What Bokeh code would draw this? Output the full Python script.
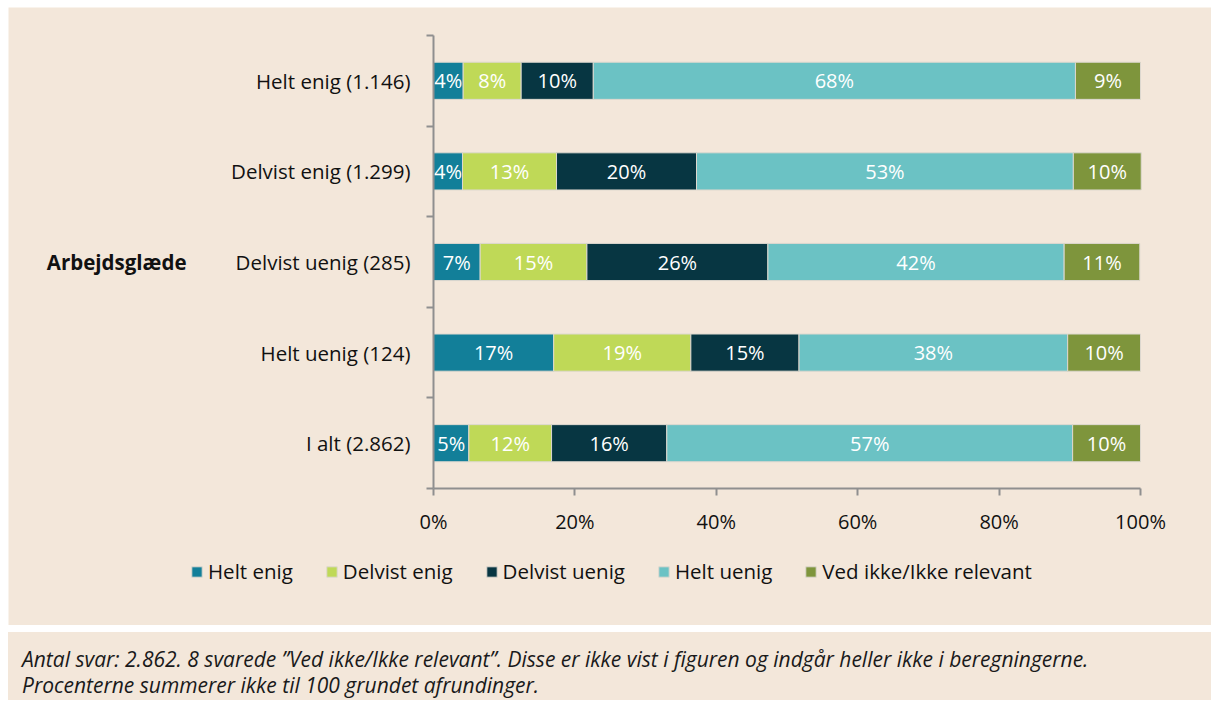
from bokeh.plotting import figure
from bokeh.models import (ColumnDataSource, FixedTicker, Legend, LegendItem,
                          Range1d, Div)
from bokeh.layouts import column
from bokeh.embed import file_html
from bokeh.resources import INLINE
from bokeh.core.properties import value

# ---------------- data ----------------
categories = ["Helt enig (1.146)", "Delvist enig (1.299)", "Delvist uenig (285)",
              "Helt uenig (124)", "I alt (2.862)"]
group_label = "Arbejdsglæde"
series = ["Helt enig", "Delvist enig", "Delvist uenig", "Helt uenig",
          "Ved ikke/Ikke relevant"]
helt_enig = [4.2, 4.1, 6.6, 17.0, 5.0]
delvist_enig = [8.2, 13.3, 15.1, 19.4, 11.7]
delvist_uenig = [10.2, 19.8, 25.6, 15.3, 16.3]
helt_uenig = [68.2, 53.3, 41.9, 38.0, 57.4]
ved_ikke = [9.2, 9.6, 10.7, 10.3, 9.6]
x_ticks = [0, 20, 40, 60, 80, 100]
x_tick_labels = ["0%", "20%", "40%", "60%", "80%", "100%"]
footnote_lines = [
    "Antal svar: 2.862. 8 svarede \u201dVed ikke/Ikke relevant\u201d. Disse er ikke vist i figuren og indgår heller ikke i beregningerne.",
    "Procenterne summerer ikke til 100 grundet afrundinger.",
]

# ---------------- styles / layout ----------------
colors = ["#127f99", "#bfd957", "#073642", "#6bc2c4", "#7e953c"]
BG = "#f3e7da"
FONT = "Open Sans"
AXIS_COLOR = "#8f8f8f"
TEXT_COLOR = "#111111"

W, H = 1203, 618
PLOT_LEFT, PLOT_RIGHT = 425, 1132      # pixel positions of 0% and 100%
PLOT_TOP, PLOT_BOTTOM = 28, 481        # pixel positions of top / bottom of category axis

n = len(categories)
xmax = 100
px_x = (PLOT_RIGHT - PLOT_LEFT) / xmax
px_y = (PLOT_BOTTOM - PLOT_TOP) / n
x_range = Range1d(-PLOT_LEFT / px_x, xmax + (W - PLOT_RIGHT) / px_x)
y_range = Range1d(-(H - PLOT_BOTTOM) / px_y, n + PLOT_TOP / px_y)

values_by_series = [helt_enig, delvist_enig, delvist_uenig, helt_uenig, ved_ikke]
ypos = [n - 0.5 - i for i in range(n)]

p = figure(width=W, height=H, x_range=x_range, y_range=y_range,
           output_backend="svg", toolbar_location=None, min_border=0)
p.background_fill_color = BG
p.border_fill_color = BG
p.outline_line_color = None
p.xgrid.grid_line_color = None
p.ygrid.grid_line_color = None

# x axis (fixed at y = 0, limited to 0..100)
xa = p.xaxis[0]
xa.fixed_location = 0
xa.bounds = (0, xmax)
xa.ticker = FixedTicker(ticks=x_ticks)
xa.major_label_overrides = {t: l for t, l in zip(x_ticks, x_tick_labels)}
xa.axis_line_color = AXIS_COLOR
xa.axis_line_width = 2
xa.major_tick_line_color = AXIS_COLOR
xa.major_tick_line_width = 2
xa.major_tick_in = 0
xa.major_tick_out = 7
xa.minor_tick_line_color = None
xa.major_label_text_font = FONT
xa.major_label_text_font_size = "20px"
xa.major_label_text_color = TEXT_COLOR
xa.major_label_standoff = 12

# y axis (fixed at x = 0): ticks at category boundaries, no labels
ya = p.yaxis[0]
ya.fixed_location = 0
ya.bounds = (0, n)
ya.ticker = FixedTicker(ticks=list(range(n + 1)))
ya.major_label_overrides = {i: "" for i in range(n + 1)}
ya.axis_line_color = AXIS_COLOR
ya.axis_line_width = 2
ya.major_tick_line_color = AXIS_COLOR
ya.major_tick_line_width = 2
ya.major_tick_in = 0
ya.major_tick_out = 7
ya.minor_tick_line_color = None

# stacked bars
left = [0.0] * n
renderers = []
seg_x, seg_y, seg_t = [], [], []
for name, vals, col in zip(series, values_by_series, colors):
    right = [l + v for l, v in zip(left, vals)]
    src = ColumnDataSource(dict(y=ypos, left=left, right=right))
    r = p.hbar(y="y", left="left", right="right", height=0.41, source=src,
               fill_color=col, line_color="#ddd8cf", line_width=1)
    renderers.append(r)
    for l, v, yy in zip(left, vals, ypos):
        seg_x.append(l + v / 2)
        seg_y.append(yy)
        seg_t.append(f"{round(v)}%")
    left = right

seg_src = ColumnDataSource(dict(x=seg_x, y=seg_y, t=seg_t))
p.text(x="x", y="y", text="t", source=seg_src, text_color="white",
       text_align="center", text_baseline="middle",
       text_font=value(FONT), text_font_size="20px")

# category labels
cat_src = ColumnDataSource(dict(x=[0] * n, y=ypos, t=categories))
p.text(x="x", y="y", text="t", source=cat_src, x_offset=-23,
       text_align="right", text_baseline="middle",
       text_font=value(FONT), text_font_size="20.5px", text_color=TEXT_COLOR)

# group label
grp_src = ColumnDataSource(dict(x=[0], y=[n / 2], t=[group_label]))
p.text(x="x", y="y", text="t", source=grp_src, x_offset=-247,
       text_align="right", text_baseline="middle",
       text_font=value(FONT), text_font_size="20.5px", text_font_style="bold",
       text_color=TEXT_COLOR)

# legend
legend = Legend(items=[LegendItem(label=s, renderers=[r]) for s, r in zip(series, renderers)],
                orientation="horizontal", location=(182, 40),
                glyph_width=13, glyph_height=13, label_standoff=5, spacing=32,
                padding=0, margin=0, border_line_color=None,
                background_fill_alpha=0,
                label_text_font=FONT, label_text_font_size="20.5px",
                label_text_color=TEXT_COLOR)
p.add_layout(legend, "center")

# footnote panel
foot_html = (
    f'<div style="box-sizing:border-box;width:{W}px;height:68px;background:{BG};'
    f'padding:14px 0 0 14px;font-family:\'{FONT}\';font-style:italic;font-size:21px;'
    f'line-height:26px;color:#1a1a1a;">' + "<br>".join(footnote_lines) + "</div>"
)
foot = Div(text=foot_html, width=W, height=68)
p.margin = (7, 0, 0, 8)
foot.margin = (7, 0, 0, 8)

layout = column(p, foot)
open("out.html", "w").write(file_html(layout, INLINE))
